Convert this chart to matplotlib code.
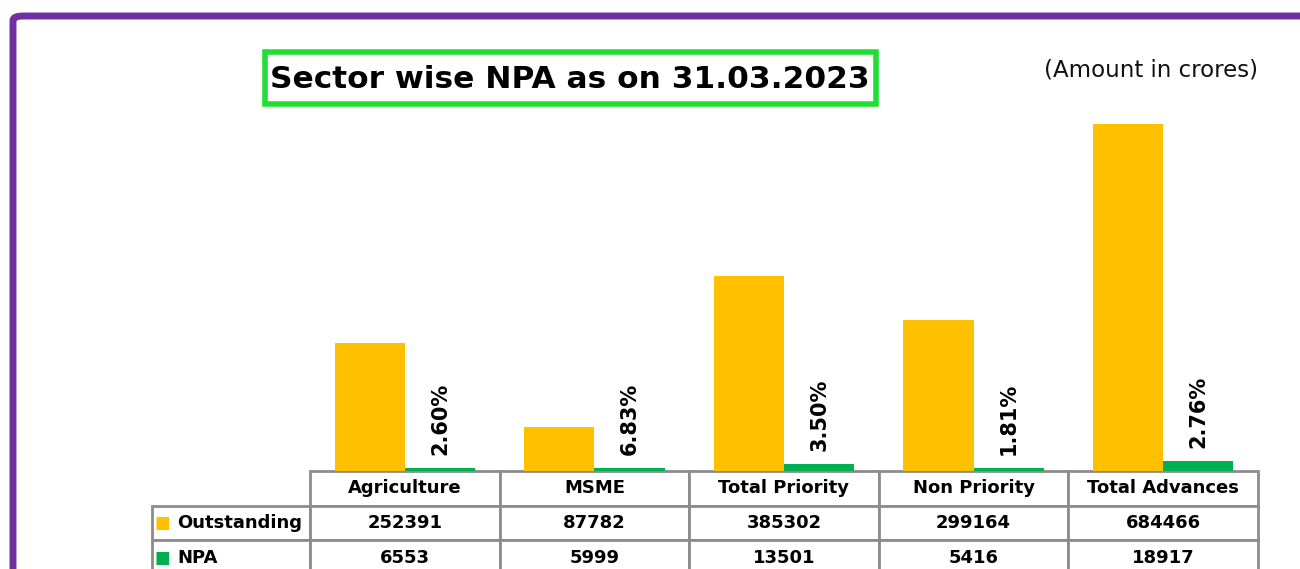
import matplotlib.pyplot as plt
from matplotlib.patches import FancyBboxPatch, Rectangle

categories = ["Agriculture", "MSME", "Total Priority", "Non Priority", "Total Advances"]
outstanding = [252391, 87782, 385302, 299164, 684466]
npa = [6553, 5999, 13501, 5416, 18917]

ORANGE = "#FFC000"
GREEN = "#00B050"
GRID = "#8C8C8C"

plt.rcParams['font.family'] = ['DejaVu Sans']

W, H = 1300, 569
fig = plt.figure(figsize=(W / 100, H / 100), dpi=100)

# purple frame, runs off the right and bottom edges
frame = FancyBboxPatch((13 / W, -0.2), 1.2, (H - 16) / H + 0.2,
                       boxstyle="round,pad=0,rounding_size=0.008",
                       transform=fig.transFigure, fill=False,
                       ec="#7030A0", lw=5, clip_on=False)
fig.patches.append(frame)

# plot area: from the table's first category column to the right edge
ax = fig.add_axes([310 / W, (H - 471) / H, (1258 - 310) / W, (471 - 66) / H])
x = list(range(len(categories)))
bw = 0.37
ax.bar([i - bw / 2 for i in x], outstanding, bw, color=ORANGE)
ax.bar([i + bw / 2 for i in x], npa, bw, color=GREEN)
ax.set_xlim(-0.5, len(categories) - 0.5)
ax.set_ylim(0, 800000)
ax.set_xticks([])
ax.set_yticks([])
for s in ax.spines.values():
    s.set_visible(False)

for i, (o, n) in enumerate(zip(outstanding, npa)):
    ax.annotate(f"{n / o * 100:.2f}%", (i + bw / 2, n), xytext=(0, 13),
                textcoords="offset pixels", rotation=90, ha="center",
                va="bottom", fontsize=15, fontweight="bold")

# data table below the bars
cell_text = [[""] + categories,
             ["Outstanding"] + [str(v) for v in outstanding],
             ["NPA"] + [str(v) for v in npa]]
label_w = 158
col_w = (1258 - 310) / len(categories)
tbl = ax.table(cellText=cell_text, cellLoc="center",
               colWidths=[label_w] + [col_w] * len(categories),
               bbox=[(152 - 310) / 948, (471 - 575) / 405, (1258 - 152) / 948, 104 / 405])
tbl.auto_set_font_size(False)
for (r, c), cell in tbl.get_celld().items():
    cell.set_edgecolor(GRID)
    cell.set_linewidth(2)
    cell.get_text().set_fontsize(13)
    cell.get_text().set_fontweight("bold")
    if c == 0:
        cell.get_text().set_ha("left")
        cell._loc = "left"
        cell.PAD = 0.16
    if r == 0 and c == 0:
        cell.visible_edges = "open"
tbl.set_clip_on(False)

# legend keys in the row labels
fig.text(155 / W, 1 - 523 / H, "■", color=ORANGE, fontsize=12, va="center")
fig.text(155 / W, 1 - 558 / H, "■", color=GREEN, fontsize=12, va="center")

# title in a green box
fig.patches.append(Rectangle((265 / W, 1 - 104 / H), (876 - 265) / W, (104 - 52) / H,
                             transform=fig.transFigure, fill=False,
                             ec="#22DD33", lw=4))
fig.text(570 / W, 1 - 79 / H, "Sector wise NPA as on 31.03.2023", ha="center",
         va="center", fontsize=22.5, fontweight="bold")
fig.text(1151 / W, 1 - 70 / H, "(Amount in crores)", ha="center", va="center",
         fontsize=16.5, color="#111111")

fig.savefig("out.png", dpi=100)
